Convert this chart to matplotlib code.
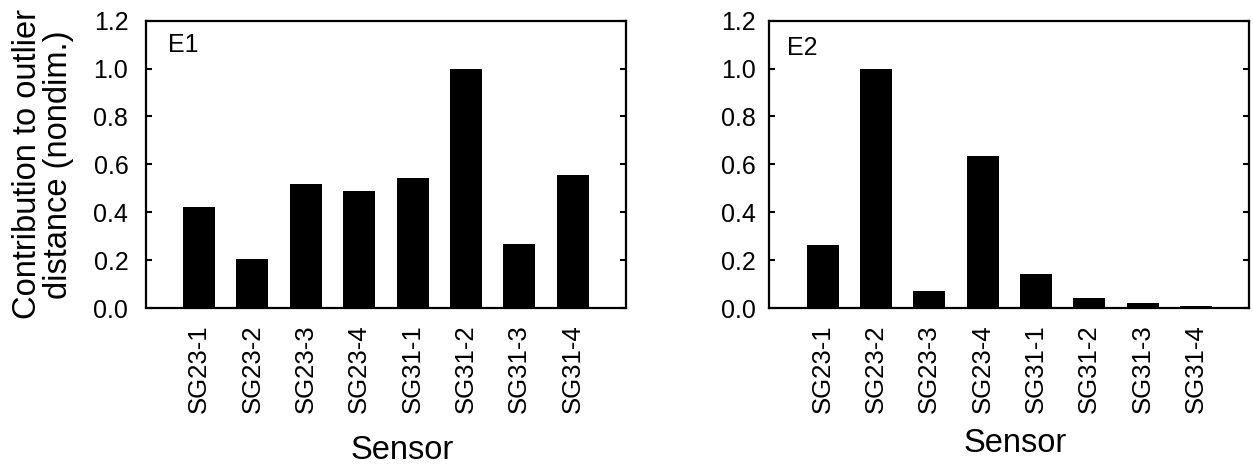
import matplotlib
matplotlib.use("Agg")
import matplotlib.pyplot as plt
import numpy as np

sensors = ["SG23-1", "SG23-2", "SG23-3", "SG23-4", "SG31-1", "SG31-2", "SG31-3", "SG31-4"]
e1_values = [0.42, 0.206, 0.52, 0.49, 0.544, 1.0, 0.267, 0.555]
e2_values = [0.262, 1.0, 0.071, 0.634, 0.143, 0.042, 0.021, 0.008]
yticks = [0.0, 0.2, 0.4, 0.6, 0.8, 1.0, 1.2]

plt.rcParams['font.family'] = ['Liberation Sans', 'DejaVu Sans']

W, H = 1253, 468
fig = plt.figure(figsize=(W / 100, H / 100), dpi=100)

def px_axes(x0, x1, ytop, ybot):
    return [x0 / W, 1 - ybot / H, (x1 - x0) / W, (ybot - ytop) / H]

ax1 = fig.add_axes(px_axes(145.7, 626.0, 20.7, 308.0))
ax2 = fig.add_axes(px_axes(769.3, 1249.3, 20.7, 308.0))

panels = [
    (ax1, e1_values, "E1", 12.5, (0.046, 0.89), (0.535, -0.442), True),
    (ax2, e2_values, "E2", 10.0, (0.036, 0.88), (0.512, -0.418), False),
]

x = np.arange(1, len(sensors) + 1)
for ax, vals, tag, ypad, tagpos, xlabpos, show_ylabel in panels:
    ax.bar(x, vals, width=0.6, color="black", edgecolor="none")
    ax.set_xlim(0, 9)
    ax.set_ylim(0, 1.2)
    ax.set_yticks(yticks)
    ax.set_yticklabels([f"{t:.1f}" for t in yticks])
    ax.set_xticks(x)
    ax.set_xticklabels(sensors, rotation=90)
    ax.tick_params(axis="y", direction="in", length=4, width=1.5, labelsize=18,
                   pad=ypad, right=True)
    ax.tick_params(axis="x", length=0, labelsize=18.5, pad=12)
    for s in ax.spines.values():
        s.set_linewidth(1.6)
    ax.text(tagpos[0], tagpos[1], tag, transform=ax.transAxes, fontsize=18,
            va="baseline", ha="left")
    ax.set_xlabel("Sensor", fontsize=23.5)
    ax.xaxis.set_label_coords(*xlabpos)
    if show_ylabel:
        ax.set_ylabel("Contribution to outlier\ndistance (nondim.)", fontsize=23.5,
                      linespacing=1.0)
        ax.yaxis.set_label_coords(-0.15, 0.5)

fig.savefig("out.png", dpi=100)
